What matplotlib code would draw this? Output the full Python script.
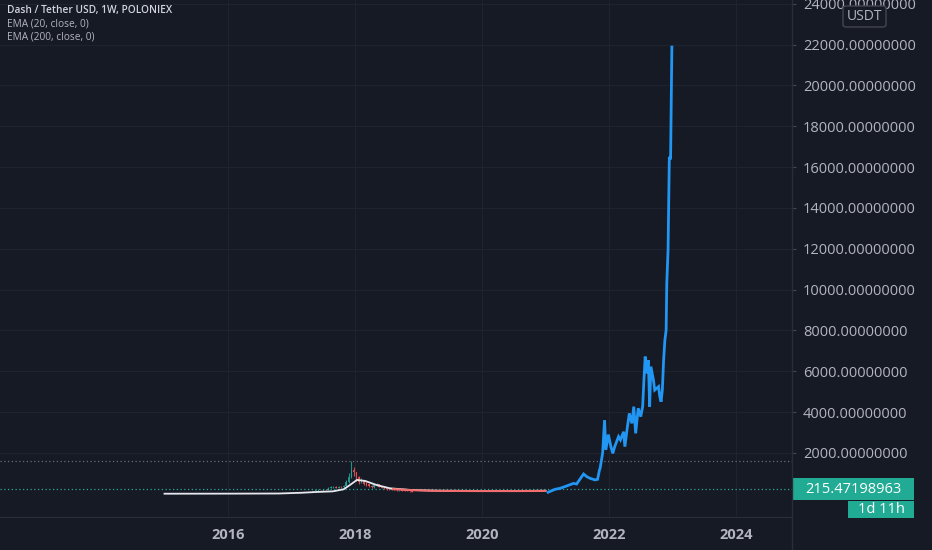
"""
Dash / Tether weekly chart, dark trading-terminal look.
"""

import numpy as np
import matplotlib.pyplot as plt
from matplotlib.patches import Rectangle, FancyBboxPatch

# ---- data (decimal years / USDT) ----
candle_year = [2017.30, 2017.34, 2017.38, 2017.42, 2017.46, 2017.50, 2017.54, 2017.58, 2017.62, 2017.66,
               2017.70, 2017.74, 2017.78, 2017.82, 2017.86, 2017.90, 2017.94, 2017.98, 2018.02, 2018.06,
               2018.10, 2018.14, 2018.18, 2018.22, 2018.26, 2018.30, 2018.34, 2018.38, 2018.42, 2018.46,
               2018.50, 2018.54, 2018.58, 2018.62, 2018.66, 2018.70, 2018.74, 2018.78, 2018.82, 2018.86,
               2018.90]
candle_close = [100, 120, 180, 190, 170, 200, 190, 280, 320, 340,
                300, 330, 310, 380, 560, 800, 1150, 1050, 800, 600,
                680, 480, 450, 380, 320, 400, 460, 330, 300, 260,
                240, 220, 200, 190, 170, 180, 160, 150, 140, 120,
                90]
candle_high = [110, 140, 200, 220, 200, 220, 230, 320, 380, 400,
               360, 370, 360, 450, 700, 1000, 1600, 1300, 1050, 850,
               780, 700, 560, 480, 420, 460, 520, 470, 360, 320,
               290, 270, 250, 230, 220, 210, 200, 180, 170, 160,
               130]
candle_low = [80, 95, 110, 160, 150, 160, 170, 180, 270, 290,
              270, 280, 280, 300, 370, 540, 780, 850, 650, 480,
              520, 440, 380, 330, 290, 300, 380, 320, 260, 230,
              210, 190, 180, 170, 150, 155, 145, 130, 120, 85,
              70]
first_open = 90

ema20_year = [2015.0, 2016.0, 2016.8, 2017.15, 2017.4, 2017.65, 2017.82, 2017.92, 2018.03, 2018.16,
              2018.34, 2018.55, 2018.87, 2019.3, 2020.0, 2020.6, 2021.0]
ema20_value = [5, 8, 15, 50, 90, 120, 220, 430, 680, 630,
               430, 270, 190, 150, 140, 140, 150]

ema200_year = [2018.6, 2018.87, 2019.2, 2019.6, 2020.0, 2020.5, 2021.0]
ema200_value = [230, 180, 150, 140, 135, 135, 140]

blue_year = [2021.04, 2021.15, 2021.23, 2021.33, 2021.44, 2021.49, 2021.57, 2021.60, 2021.65, 2021.70,
             2021.78, 2021.82, 2021.85, 2021.86, 2021.90, 2021.93, 2021.95, 2021.99, 2022.03, 2022.06,
             2022.09, 2022.15, 2022.18, 2022.23, 2022.25, 2022.29, 2022.32, 2022.36, 2022.39, 2022.42,
             2022.46, 2022.50, 2022.53, 2022.55, 2022.57, 2022.59, 2022.62, 2022.64, 2022.66, 2022.70,
             2022.72, 2022.78, 2022.80, 2022.82, 2022.84, 2022.86, 2022.88, 2022.90, 2022.91, 2022.93,
             2022.95, 2022.97, 2022.99]
blue_value = [75, 220, 270, 380, 510, 480, 840, 970, 840, 760,
              680, 710, 1170, 1250, 2000, 3610, 2150, 2900, 2310, 1980,
              2310, 2800, 2640, 3040, 2310, 3290, 3940, 3450, 4270, 2960,
              4190, 3780, 4270, 5570, 6720, 5900, 6550, 4270, 6230, 5570,
              5080, 5250, 4760, 4510, 5080, 6550, 7530, 8020, 10320, 11940,
              16440, 16440, 21880]

visible_high = 1583
last_price = 215.47198963
price_text = "215.47198963"
countdown_text = "1d 11h"

y_ticks = [2000, 4000, 6000, 8000, 10000, 12000, 14000, 16000, 18000, 20000, 22000, 24000]
x_ticks = [2016, 2018, 2020, 2022, 2024]
legend_lines = ["Dash / Tether USD, 1W, POLONIEX", "EMA (20, close, 0)", "EMA (200, close, 0)"]

BG = '#161a25'
GRID = '#1f2330'
TEXT = '#b2b5be'
UP = '#26a69a'
DOWN = '#ef5350'

W, H = 932, 550
fig = plt.figure(figsize=(W / 100, H / 100), dpi=100, facecolor=BG)
ax = fig.add_axes([0, 33 / H, 792 / W, 517 / H], facecolor=BG)

# candles
opens = [first_open] + candle_close[:-1]
for yr, o, c, hi, lo in zip(candle_year, opens, candle_close, candle_high, candle_low):
    col = UP if c >= o else DOWN
    ax.vlines(yr, lo, hi, color=col, lw=0.8, alpha=0.85, zorder=2)
    ax.bar(yr, abs(c - o) + 10, bottom=min(o, c), width=0.022, color=col, alpha=0.85, zorder=2)

ax.plot(ema20_year, ema20_value, color='#e6e8ee', lw=1.3, zorder=3)
ax.plot(ema200_year, ema200_value, color='#f26d6d', lw=1.5, zorder=4)
ax.plot(blue_year, blue_value, color='#2196f3', lw=2.0, zorder=5, solid_joinstyle='miter')

ax.axhline(visible_high, color='#6a6d78', lw=0.9, ls=(0, (1, 2)), zorder=1)
ax.axhline(last_price, color=UP, lw=0.9, ls=(0, (1, 2)), zorder=1)

ax.set_xlim(2012.409, 2024.882)
ax.set_ylim(-1136, 24186)

ax.set_yticks(y_ticks)
ax.set_yticklabels(['%.8f' % v for v in y_ticks])
ax.yaxis.tick_right()
ax.tick_params(axis='y', length=3, width=0.8, color='#434651', pad=5,
               labelsize=10.5, labelcolor=TEXT)
for lab in ax.get_yticklabels():
    lab.set_fontfamily('Open Sans')

ax.set_xticks(x_ticks)
ax.set_xticklabels([str(v) for v in x_ticks])
ax.tick_params(axis='x', length=0, pad=8, labelsize=10.5, labelcolor=TEXT)
for lab in ax.get_xticklabels():
    lab.set_fontfamily('Open Sans')
    lab.set_fontweight('bold')

ax.grid(True, color=GRID, lw=0.8)
ax.set_axisbelow(True)
for side in ['top', 'left', 'right']:
    ax.spines[side].set_visible(False)
ax.spines['bottom'].set_color('#2a2e39')

# right axis border
fig.add_artist(plt.Line2D([792 / W, 792 / W], [0, 1], color='#2a2e39', lw=1))

# legend text top left
for i, txt in enumerate(legend_lines):
    fig.text(7 / W, 1 - (10 + 13.5 * i) / H, txt, fontsize=7.3, color='#d1d4dc' if i == 0 else TEXT,
             fontweight='semibold' if i == 0 else 'normal', family='Open Sans', va='center')

# currency box
fig.patches.append(FancyBboxPatch((843 / W, 1 - 27 / H), 43 / W, 21 / H,
                                  boxstyle='round,pad=0,rounding_size=0.004',
                                  transform=fig.transFigure, facecolor=BG, edgecolor='#434651', lw=1))
fig.text(864.5 / W, 1 - 16 / H, 'USDT', fontsize=10, color=TEXT, family='Open Sans',
         ha='center', va='center')

# last price label
fig.canvas.draw()
py = ax.transData.transform((2020, last_price))[1]
fig.patches.append(Rectangle((792 / W, (py - 11) / H), 122 / W, 22 / H,
                             transform=fig.transFigure, facecolor='#22ab94', edgecolor='none'))
fig.text(853 / W, py / H, price_text, fontsize=10.5, color='white', family='Open Sans',
         ha='center', va='center')
fig.patches.append(Rectangle((848 / W, (py - 28.5) / H), 66 / W, 17 / H,
                             transform=fig.transFigure, facecolor='#22ab94', edgecolor='none'))
fig.text(881 / W, (py - 20) / H, countdown_text, fontsize=10.5, color='white', family='Open Sans',
         ha='center', va='center')

fig.savefig('out.png', dpi=100, facecolor=BG)
